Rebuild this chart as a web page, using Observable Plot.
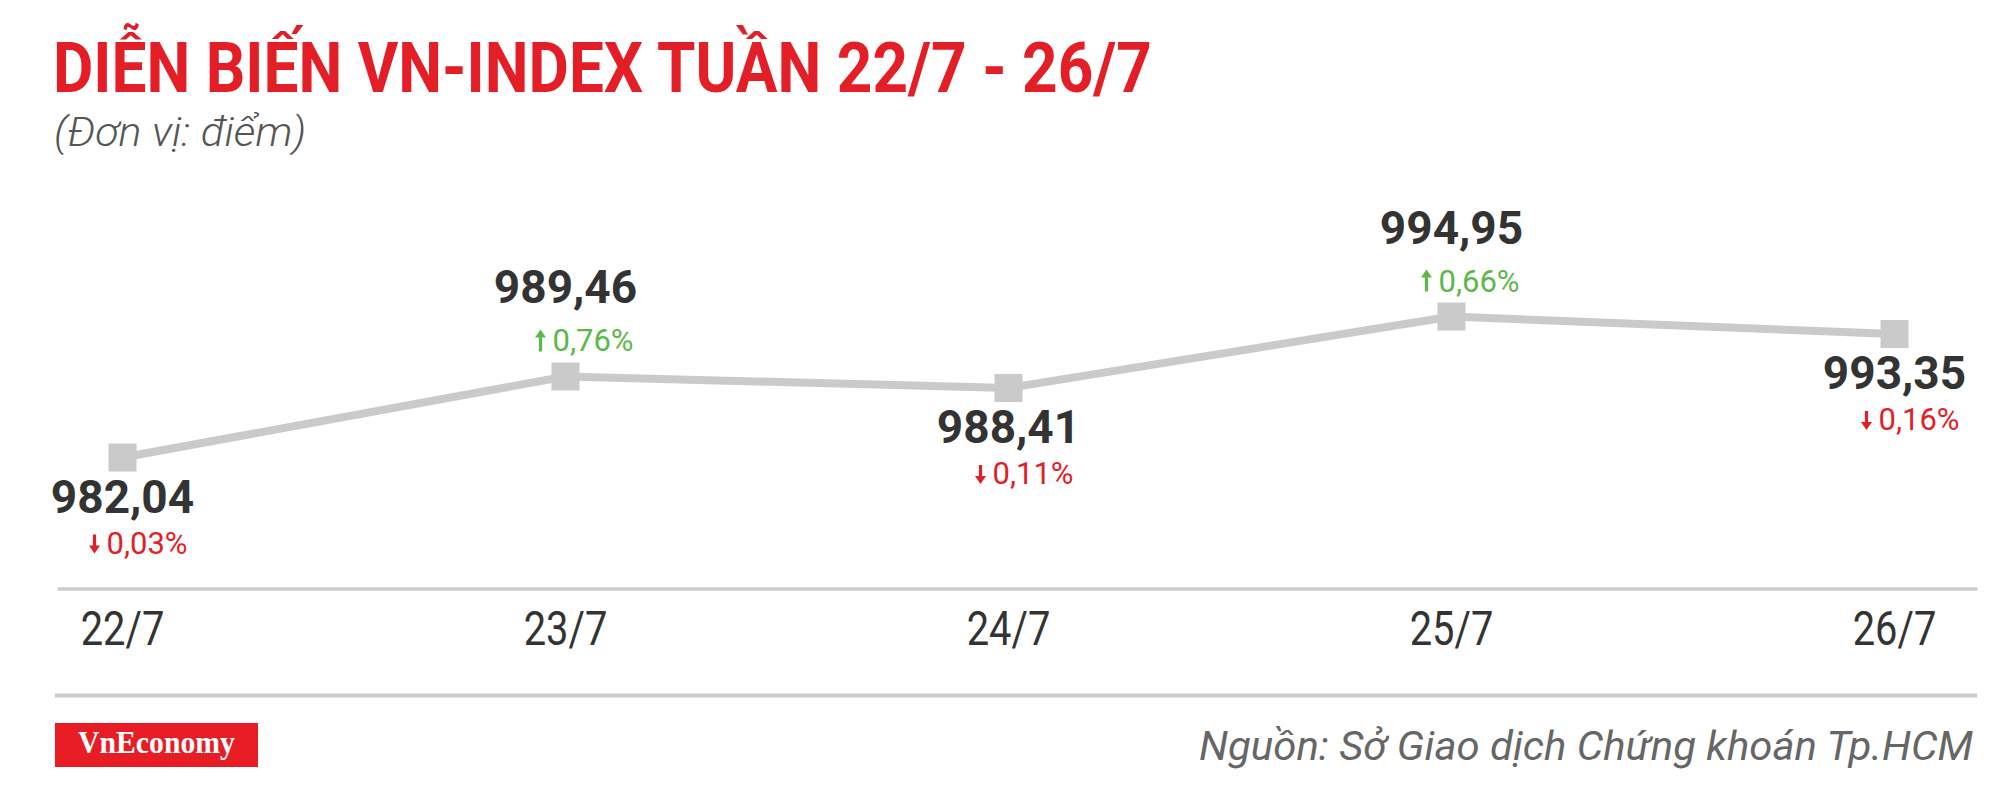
<!DOCTYPE html>
<html>
<head>
<meta charset="utf-8">
<script src="https://cdn.jsdelivr.net/npm/d3@7"></script>
<script src="https://cdn.jsdelivr.net/npm/@observablehq/plot@0.6"></script>
<style>
  html, body { margin: 0; padding: 0; background: #ffffff; }
  body { width: 2000px; height: 785px; position: relative; overflow: hidden; font-family: Roboto, "Liberation Sans", sans-serif; }
  .abs { position: absolute; left: 0; }
</style>
</head>
<body>
<script>
// ---- data ----
const days = ["22/7", "23/7", "24/7", "25/7", "26/7"];
const values = [982.04, 989.46, 988.41, 994.95, 993.35];
const changes = [-0.03, 0.76, -0.11, 0.66, -0.16];

const titleText = "DIỄN BIẾN VN-INDEX TUẦN 22/7 - 26/7";
const subtitleText = "(Đơn vị: điểm)";
const sourceText = "Nguồn: Sở Giao dịch Chứng khoán Tp.HCM";
const brandText = "VnEconomy";

// ---- styles ----
const RED = "#e41e26";
const GREEN = "#5cb848";
const GREY_LINE = "#cacaca";
const RULE = "#cccccc";
const DARK = "#333333";

const data = days.map((d, i) => ({ day: d, value: values[i], change: changes[i] }));
const fmt = v => d3.format(".2f")(v).replace(".", ",");
const pct = c => fmt(Math.abs(c)) + "%";
const up = d => d.change > 0;
const down = d => d.change <= 0;

// filled arrow shape (shaft + triangular head), drawn pointing up
const arrowShape = {
  draw(context, l) {
    const hw = 5.5, hh = 8, sw = 1.6;
    context.moveTo(-sw, 0);
    context.lineTo(-sw, -l + hh);
    context.lineTo(-hw, -l + hh);
    context.lineTo(0, -l);
    context.lineTo(hw, -l + hh);
    context.lineTo(sw, -l + hh);
    context.lineTo(sw, 0);
    context.closePath();
  }
};

const NS = "http://www.w3.org/2000/svg";
function svgEl(tag, attrs, parent) {
  const e = document.createElementNS(NS, tag);
  for (const k in attrs) e.setAttribute(k, attrs[k]);
  if (parent) parent.appendChild(e);
  return e;
}

// ---- header ----
const head = svgEl("svg", { width: 2000, height: 160, class: "abs" });
head.style.top = "0px";
document.body.appendChild(head);
const t1 = svgEl("text", {
  x: 53, y: 92, fill: RED, "font-size": 70, "font-weight": 700,
  "font-family": "Roboto, 'Liberation Sans', sans-serif",
  textLength: 1099, lengthAdjust: "spacingAndGlyphs"
}, head);
t1.textContent = titleText;
const t2 = svgEl("text", {
  x: 54, y: 146, fill: "#555555", "font-size": 40, "font-weight": 300, "font-style": "italic",
  "font-family": "Roboto, 'Liberation Sans', sans-serif",
  textLength: 252, lengthAdjust: "spacingAndGlyphs"
}, head);
t2.textContent = subtitleText;

// ---- chart ----
const font = "Roboto, 'Liberation Sans', sans-serif";
const chart = Plot.plot({
  width: 2000,
  height: 530,
  marginLeft: 59,
  marginRight: 25,
  marginTop: 0,
  marginBottom: 101.5,
  style: { background: "transparent", fontFamily: font, overflow: "visible" },
  x: { type: "point", domain: days, range: [121.5, 1894], padding: 0, axis: null },
  y: { domain: [975, 1000], range: [373.9, 100.9], axis: null },
  marks: [
    Plot.frame({ anchor: "bottom", stroke: RULE, strokeWidth: 3.5 }),
    Plot.axisX({ tickSize: 0, tickPadding: 22, fontSize: 48, fill: DARK, label: null, ariaLabel: "x-axis" }),
    Plot.line(data, { x: "day", y: "value", stroke: GREY_LINE, strokeWidth: 8 }),
    Plot.dot(data, { x: "day", y: "value", symbol: "square", r: 15.8, fill: GREY_LINE, stroke: null }),
    // value labels
    Plot.text(data, { filter: up, x: "day", y: "value", text: d => fmt(d.value), lineAnchor: "bottom", dy: -73,
      fontSize: 46, fontWeight: 700, fill: DARK, ariaLabel: "value-label" }),
    Plot.text(data, { filter: down, x: "day", y: "value", text: d => fmt(d.value), lineAnchor: "bottom", dy: 55,
      fontSize: 46, fontWeight: 700, fill: DARK, ariaLabel: "value-label" }),
    // change labels
    Plot.text(data, { filter: up, x: "day", y: "value", text: d => pct(d.change), lineAnchor: "bottom", dy: -25, dx: -13,
      textAnchor: "start", fontSize: 31, fill: GREEN, ariaLabel: "pct-label" }),
    Plot.text(data, { filter: down, x: "day", y: "value", text: d => pct(d.change), lineAnchor: "bottom", dy: 96, dx: -16,
      textAnchor: "start", fontSize: 31, fill: RED, ariaLabel: "pct-label" }),
    // arrows
    Plot.vector(data, { filter: up, x: "day", y: "value", length: 22, rotate: 0, anchor: "middle", shape: arrowShape,
      dx: -25, dy: -36, fill: GREEN, stroke: "none" }),
    Plot.vector(data, { filter: down, x: "day", y: "value", length: 19, rotate: 180, anchor: "middle", shape: arrowShape,
      dx: -28, dy: 86.5, fill: RED, stroke: "none" })
  ]
});
chart.classList.add("abs");
chart.style.top = "160px";
document.body.appendChild(chart);

function squeeze(selector, f) {
  chart.querySelectorAll(selector).forEach(t => {
    const L = t.getComputedTextLength();
    t.setAttribute("textLength", L * f);
    t.setAttribute("lengthAdjust", "spacingAndGlyphs");
  });
}
squeeze('g[aria-label="value-label"] text', 0.935);
squeeze('g[aria-label="x-axis"] text, g[aria-label="x-axis tick label"] text', 0.83);
squeeze('g[aria-label="pct-label"] text', 0.94);

// ---- footer ----
const foot = svgEl("svg", { width: 2000, height: 95, class: "abs" });
foot.style.top = "690px";
document.body.appendChild(foot);
svgEl("line", { x1: 55, x2: 1977, y1: 5.5, y2: 5.5, stroke: RULE, "stroke-width": 4 }, foot);
svgEl("rect", { x: 55, y: 33, width: 203, height: 44, fill: "#e81c24" }, foot);
const b = svgEl("text", {
  x: 156.5, y: 63, fill: "#ffffff", "font-size": 31, "font-weight": 700,
  "font-family": "'Liberation Serif', 'DejaVu Serif', serif", "text-anchor": "middle",
  textLength: 157, lengthAdjust: "spacingAndGlyphs"
}, foot);
b.textContent = brandText;
const s = svgEl("text", {
  x: 1973, y: 70, fill: "#666666", "font-size": 41, "font-style": "italic", "font-weight": 400,
  "font-family": "Roboto, 'Liberation Sans', sans-serif", "text-anchor": "end",
  textLength: 774, lengthAdjust: "spacingAndGlyphs"
}, foot);
s.textContent = sourceText;
</script>
</body>
</html>
